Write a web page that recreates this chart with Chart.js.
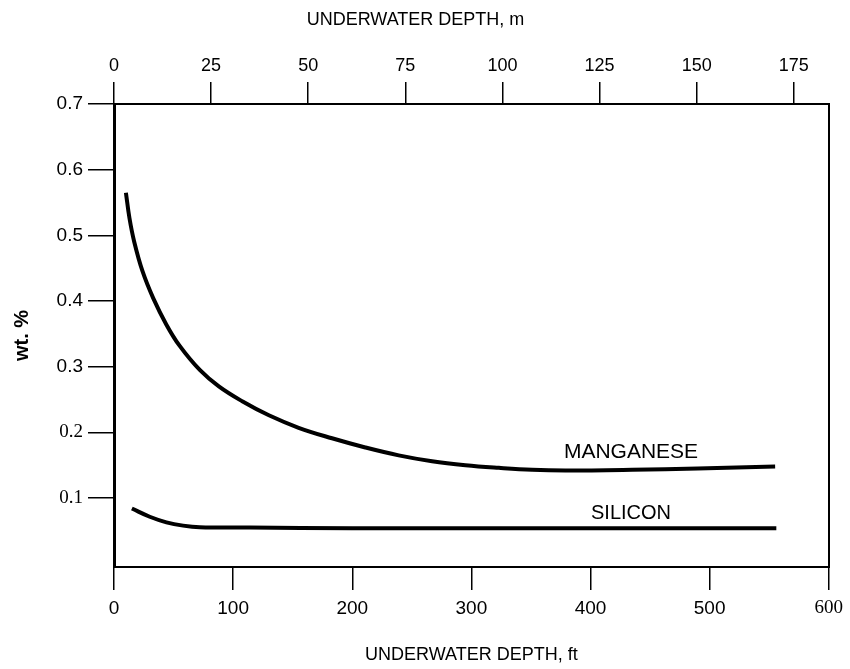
<!DOCTYPE html>
<html>
<head>
<meta charset="utf-8">
<title>Manganese and silicon vs underwater depth</title>
<script src="https://cdn.jsdelivr.net/npm/chart.js@4.4.1/dist/chart.umd.min.js"></script>
<style>
  body { margin: 0; background: #fff; }
  canvas { display: block; }
</style>
</head>
<body>
<canvas id="myChart" width="850" height="669"></canvas>
<script>
// data (depth in ft, wt. %)
const mnDepth = [10, 13, 17, 24, 33, 44, 55, 72, 88, 108, 130, 155, 183, 211, 239, 267, 295, 323, 351, 379, 435, 490, 555];
const mnValue = [0.565, 0.526, 0.490, 0.445, 0.404, 0.364, 0.332, 0.295, 0.270, 0.247, 0.226, 0.207, 0.191, 0.177, 0.165, 0.156, 0.150, 0.146, 0.143, 0.142, 0.143, 0.145, 0.148];

const siDepth = [15, 30, 44, 58, 72, 114, 200, 300, 400, 500, 556];
const siValue = [0.084, 0.0715, 0.063, 0.058, 0.0555, 0.055, 0.054, 0.054, 0.054, 0.054, 0.054];

// tick labels
const ftTicks = [0, 100, 200, 300, 400, 500, 600];
const mTicks = [0, 25, 50, 75, 100, 125, 150, 175];
const wtTicks = [0.1, 0.2, 0.3, 0.4, 0.5, 0.6, 0.7];

// curve labels
const curveNames = ['MANGANESE', 'SILICON'];
const curveNameDepth = [434, 434];
const curveNameValue = [0.170, 0.077];

const SANS = "'Liberation Sans', Arial, sans-serif";
const SERIF = "'Liberation Serif', 'Times New Roman', serif";

function toPoints(xs, ys) {
  return xs.map((x, i) => ({ x: x, y: ys[i] }));
}

function setTicks(values) {
  return scale => { scale.ticks = values.map(v => ({ value: v })); };
}

// draws the curve names at data positions
const curveLabels = {
  id: 'curveLabels',
  afterDatasetsDraw(chart) {
    const { ctx, scales } = chart;
    ctx.save();
    ctx.fillStyle = '#000';
    ctx.textAlign = 'center';
    ctx.textBaseline = 'middle';
    curveNames.forEach((name, i) => {
      ctx.font = i === 0 ? '21px ' + SANS : '20px ' + SANS;
      ctx.fillText(name, scales.x.getPixelForValue(curveNameDepth[i]), scales.y.getPixelForValue(curveNameValue[i]));
    });
    ctx.restore();
  }
};

const data = {
  datasets: [
    {
      label: 'MANGANESE',
      data: toPoints(mnDepth, mnValue),
      borderColor: '#000',
      borderWidth: 4,
      pointRadius: 0,
      tension: 0.4,
      xAxisID: 'x',
      yAxisID: 'y'
    },
    {
      label: 'SILICON',
      data: toPoints(siDepth, siValue),
      borderColor: '#000',
      borderWidth: 4,
      pointRadius: 0,
      tension: 0.4,
      xAxisID: 'x',
      yAxisID: 'y'
    }
  ]
};

const config = {
  type: 'line',
  data,
  options: {
    responsive: false,
    animation: false,
    layout: { padding: { right: 19 } },
    plugins: {
      legend: { display: false },
      tooltip: { enabled: false },
      title: {
        display: true,
        text: 'UNDERWATER DEPTH, m',
        color: '#000',
        font: { family: SANS, size: 18, weight: 'normal', lineHeight: 1.2 },
        padding: { top: 9, bottom: 0 }
      }
    },
    scales: {
      x: {
        type: 'linear',
        position: 'bottom',
        min: 0,
        max: 600,
        afterBuildTicks: setTicks(ftTicks),
        afterFit: s => { s.height = 102; },
        border: { color: '#000', width: 2 },
        grid: { drawOnChartArea: false, tickLength: 23, color: '#000', lineWidth: 1.5 },
        ticks: {
          color: '#000',
          padding: 7,
          maxRotation: 0,
          font: c => ({ family: c.tick && c.tick.value === 600 ? SERIF : SANS, size: 19 })
        },
        title: {
          display: true,
          text: 'UNDERWATER DEPTH, ft',
          color: '#000',
          font: { family: SANS, size: 18 },
          padding: { top: 0, bottom: 3 }
        }
      },
      x2: {
        type: 'linear',
        position: 'top',
        min: 0,
        max: 184,
        afterBuildTicks: setTicks(mTicks),
        afterFit: s => { s.height = 104 - 30.6; },
        border: { color: '#000', width: 2 },
        grid: { drawOnChartArea: false, tickLength: 22, color: '#000', lineWidth: 1.5 },
        ticks: {
          color: '#000',
          padding: 5,
          maxRotation: 0,
          font: { family: SANS, size: 18 }
        }
      },
      y: {
        type: 'linear',
        position: 'left',
        min: -0.005,
        max: 0.7,
        afterBuildTicks: setTicks(wtTicks),
        afterFit: s => { s.width = 114; },
        border: { color: '#000', width: 3 },
        grid: { drawOnChartArea: false, tickLength: 26, color: '#000', lineWidth: 1.5 },
        ticks: {
          color: '#000',
          padding: 5,
          callback: v => v.toFixed(1),
          font: c => ({ family: c.tick && c.tick.value < 0.25 ? SERIF : SANS, size: 19 })
        },
        title: {
          display: true,
          text: 'wt. %',
          color: '#000',
          font: { family: SANS, size: 20, weight: 'bold' },
          padding: { top: 10, bottom: 0 }
        }
      },
      y2: {
        type: 'linear',
        position: 'right',
        afterFit: s => { s.width = 0; },
        border: { color: '#000', width: 2 },
        grid: { display: false },
        ticks: { display: false }
      }
    }
  },
  plugins: [curveLabels]
};

const myChart = new Chart(
  document.getElementById('myChart'),
  config
);
</script>
</body>
</html>
